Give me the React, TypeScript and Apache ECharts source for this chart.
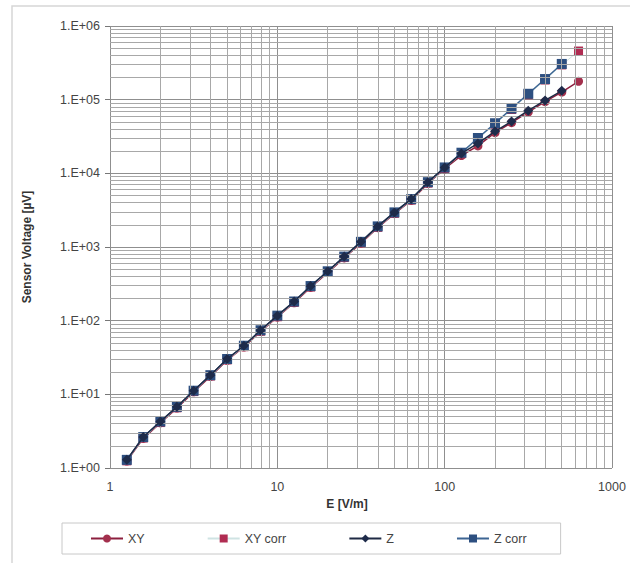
import React, { useEffect, useRef } from "react";
import * as echarts from "echarts";

// E field values [V/m]
const eValues = [1.26, 1.58, 2.0, 2.51, 3.16, 3.98, 5.01, 6.31, 7.94, 10, 12.6, 15.8, 20, 25.1, 31.6, 39.8, 50.1, 63.1, 79.4, 100, 126, 158, 200, 251, 316, 398, 501];
const eValuesXY = [1.26, 1.58, 2.0, 2.51, 3.16, 3.98, 5.01, 6.31, 7.94, 10, 12.6, 15.8, 20, 25.1, 31.6, 39.8, 50.1, 63.1, 79.4, 100, 126, 158, 200, 251, 316, 398, 501, 631];

// Sensor voltage [µV]
const xyValues = [1.24, 2.52, 4.1, 6.5, 10.8, 17.5, 29, 43.9, 71.1, 112, 175, 283, 449, 711, 1128, 1829, 2833, 4288, 7283, 11540, 17470, 23570, 35670, 48670, 67970, 93790, 126500, 177800];
const xyCorrValues = [1.25, 2.55, 4.14, 6.56, 10.9, 17.7, 29.3, 44.3, 71.9, 113, 177, 286, 454, 719, 1140, 1848, 2862, 4333, 7358, 11660, 18480, 29290, 46430, 73580, 116600, 184800, 296300, 457100];
const zValues = [1.29, 2.63, 4.27, 6.76, 11.2, 18.2, 30.2, 45.7, 74.1, 117, 182, 295, 468, 741, 1175, 1905, 2951, 4467, 7586, 12020, 18600, 25500, 37150, 50700, 70800, 97700, 131800];
const zCorrValues = [1.29, 2.63, 4.27, 6.76, 11.2, 18.2, 30.2, 45.7, 74.1, 117, 182, 295, 468, 741, 1175, 1905, 2951, 4467, 7586, 12020, 19050, 30200, 47860, 75860, 120200, 190500, 305500];

const seriesNames = ["XY", "XY corr", "Z", "Z corr"];

// log grid structure
const xDecades = [1, 10, 100];
const yDecades = [1, 10, 100, 1000, 10000, 100000];
const minorSteps = [2, 3, 4, 5, 6, 7, 8, 9];

const pairs = (xs: number[], ys: number[]) => xs.map((x, i) => [x, ys[i]]);

export default function App() {
  const ref = useRef<HTMLDivElement>(null);

  useEffect(() => {
    if (!ref.current) return;
    const chart = echarts.init(ref.current, undefined, { renderer: "svg" });

    const minorX: any[] = [];
    xDecades.forEach((d) => minorSteps.forEach((m) => minorX.push({ xAxis: d * m })));
    const minorY: any[] = [];
    yDecades.forEach((d) => minorSteps.forEach((m) => minorY.push({ yAxis: d * m })));

    const font = "Liberation Sans, Arial, sans-serif";

    chart.setOption({
      animation: false,
      backgroundColor: "#ffffff",
      textStyle: { fontFamily: font },
      graphic: [
        {
          type: "rect",
          shape: { x: 12, y: 6, width: 700, height: 700 },
          style: { fill: "none", stroke: "#d6d6d6", lineWidth: 1.5 },
          silent: true,
          z: -10,
        },
      ],
      grid: { left: 110, right: 18, top: 26, bottom: 95 },
      xAxis: {
        type: "log",
        logBase: 10,
        min: 1,
        max: 1000,
        interval: 1,
        name: "E [V/m]",
        nameLocation: "middle",
        nameGap: 30,
        nameTextStyle: { fontWeight: "bold", fontSize: 12, color: "#333", padding: [0, 28, 0, 0] },
        axisLine: { show: false },
        axisTick: { show: false },
        axisLabel: {
          fontSize: 12.5,
          color: "#444",
          margin: 12,
          formatter: (v: number) => String(Math.round(v)),
        },
        splitLine: { show: true, lineStyle: { color: "#8f8f8f", width: 1 } },
      },
      yAxis: {
        type: "log",
        logBase: 10,
        min: 1,
        max: 1000000,
        interval: 1,
        name: "Sensor Voltage [µV]",
        nameLocation: "middle",
        nameGap: 77,
        nameTextStyle: { fontWeight: "bold", fontSize: 12, color: "#333" },
        axisLine: { show: false },
        axisTick: { show: true, length: 5, lineStyle: { color: "#777" } },
        axisLabel: {
          fontSize: 12.5,
          color: "#444",
          margin: 10,
          formatter: (v: number) => "1.E+" + String(Math.round(Math.log10(v))).padStart(2, "0"),
        },
        splitLine: { show: true, lineStyle: { color: "#8f8f8f", width: 1 } },
      },
      legend: {
        data: seriesNames,
        left: 62,
        top: 523,
        itemGap: 62,
        itemWidth: 32,
        itemHeight: 10,
        padding: [9, 34, 9, 28],
        borderColor: "#c8c8c8",
        borderWidth: 1,
        textStyle: { fontSize: 12.5, color: "#444", fontFamily: font },
      },
      series: [
        {
          name: "grid",
          type: "line",
          data: [],
          silent: true,
          z: 1,
          markLine: {
            silent: true,
            symbol: ["none", "none"],
            label: { show: false },
            lineStyle: { color: "#a8a8a8", width: 1, type: "solid" },
            data: [...minorX, ...minorY],
          },
        },
        {
          name: "XY",
          type: "line",
          data: pairs(eValuesXY, xyValues),
          symbol: "circle",
          symbolSize: 9,
          itemStyle: { color: "#a3304d" },
          lineStyle: { color: "#8c1f3e", width: 1.5 },
          z: 3,
        },
        {
          name: "XY corr",
          type: "line",
          data: pairs(eValuesXY, xyCorrValues),
          symbol: "rect",
          symbolSize: 9,
          itemStyle: { color: "#b02c52" },
          lineStyle: { color: "#cfe3e3", width: 1 },
          z: 3,
        },
        {
          name: "Z corr",
          type: "line",
          data: pairs(eValues, zCorrValues),
          symbol: "rect",
          symbolSize: 10,
          itemStyle: { color: "#2d4f80" },
          lineStyle: { color: "#3d6593", width: 1.5 },
          z: 4,
        },
        {
          name: "Z",
          type: "line",
          data: pairs(eValues, zValues),
          symbol: "diamond",
          symbolSize: 10,
          itemStyle: { color: "#1e2b4a" },
          lineStyle: { color: "#1f2a44", width: 1.5 },
          z: 5,
        },
      ],
    });

    return () => chart.dispose();
  }, []);

  return <div ref={ref} style={{ position: "fixed", left: 0, top: 0, width: 630, height: 563 }} />;
}
